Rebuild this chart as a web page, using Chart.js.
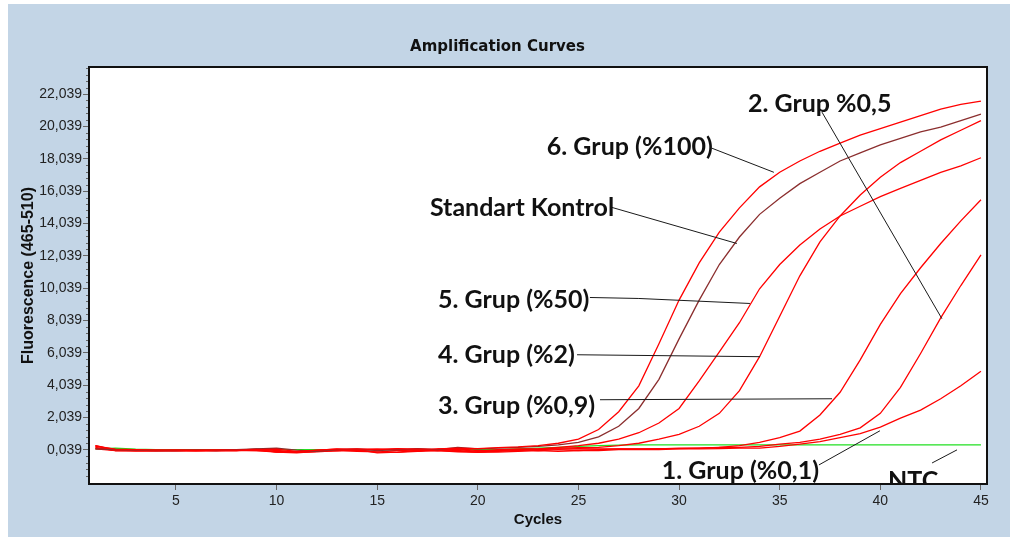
<!DOCTYPE html>
<html lang="tr">
<head>
<meta charset="UTF-8">
<title>Amplification Curves</title>
<script src="https://cdn.jsdelivr.net/npm/chart.js"></script>
<style>
  body { margin: 0; background: #fff; width: 1010px; height: 537px; overflow: hidden; position: relative; }
  #grafico { position: absolute; left: 8px; top: 4px; }
</style>
</head>
<body>
<canvas id="grafico" width="1002" height="533"></canvas>
<script>
  // cycles on the x axis
  var ciclos = [1, 2, 3, 4, 5, 6, 7, 8, 9, 10, 11, 12, 13, 14, 15, 16, 17, 18, 19, 20,
    21, 22, 23, 24, 25, 26, 27, 28, 29, 30, 31, 32, 33, 34, 35, 36, 37, 38, 39, 40, 41, 42, 43, 44, 45];

  // fluorescence per cycle
  var grup6 = [0.25, 0.08, 0.05, 0.03, 0.02, 0.0, 0.02, 0.03, 0.05, 0.08,
    -0.05, 0.02, 0.08, 0.1, 0.05, 0.12, 0.08, 0.1, 0.15, 0.12,
    0.18, 0.22, 0.3, 0.45, 0.7, 1.3, 2.4, 4.0, 6.6, 9.3,
    11.6, 13.5, 15.0, 16.3, 17.2, 17.9, 18.5, 19.0, 19.5, 19.9,
    20.3, 20.7, 21.1, 21.4, 21.6];
  var standart = [0.1, 0.05, 0.02, 0.0, 0.0, 0.02, 0.0, 0.05, 0.1, 0.15,
    0.02, -0.05, 0.05, 0.1, 0.0, 0.05, 0.12, 0.05, 0.2, 0.1,
    0.15, 0.2, 0.25, 0.35, 0.5, 0.85, 1.5, 2.6, 4.4, 6.9,
    9.3, 11.5, 13.2, 14.6, 15.6, 16.5, 17.2, 17.9, 18.4, 18.9,
    19.3, 19.7, 20.0, 20.4, 20.8];
  var grup5 = [0.3, 0.0, -0.02, 0.0, 0.02, 0.0, 0.0, 0.02, 0.0, -0.1,
    -0.1, 0.0, 0.05, 0.02, -0.1, 0.0, 0.1, 0.0, -0.05, -0.1,
    0.0, 0.05, 0.1, 0.2, 0.3, 0.45, 0.7, 1.1, 1.7, 2.6,
    4.3, 6.1, 7.9, 10.0, 11.5, 12.7, 13.7, 14.5, 15.1, 15.7,
    16.2, 16.7, 17.2, 17.6, 18.1];
  var grup4 = [0.15, 0.02, 0.0, -0.02, 0.0, 0.0, 0.02, 0.05, 0.05, -0.08,
    -0.1, -0.05, 0.0, 0.05, 0.1, 0.02, -0.05, 0.1, 0.05, -0.05,
    0.05, 0.1, 0.1, 0.15, 0.18, 0.2, 0.3, 0.45, 0.7, 1.0,
    1.5, 2.3, 3.7, 5.8, 8.3, 10.8, 12.9, 14.5, 15.8, 16.9,
    17.8, 18.5, 19.2, 19.8, 20.4];
  var grup3 = [0.2, 0.0, 0.0, 0.0, 0.0, 0.0, 0.0, 0.0, 0.05, -0.1,
    -0.15, -0.05, 0.0, 0.05, -0.15, -0.1, 0.0, 0.05, 0.0, -0.12,
    -0.05, 0.0, 0.05, 0.1, 0.12, 0.1, 0.1, 0.1, 0.12, 0.12,
    0.15, 0.2, 0.3, 0.5, 0.8, 1.2, 2.2, 3.6, 5.6, 7.8,
    9.7, 11.3, 12.8, 14.2, 15.5];
  var grup2 = [0.3, 0.05, 0.0, 0.0, 0.0, 0.0, 0.0, 0.0, 0.1, 0.0,
    -0.08, 0.0, 0.1, 0.0, 0.05, 0.1, 0.0, 0.0, 0.1, 0.0,
    0.0, 0.05, 0.0, 0.05, 0.0, 0.05, 0.1, 0.1, 0.1, 0.15,
    0.15, 0.2, 0.2, 0.25, 0.4, 0.5, 0.7, 1.0, 1.4, 2.3,
    3.9, 6.0, 8.2, 10.2, 12.1];
  var grup1 = [0.1, 0.0, 0.0, 0.0, -0.02, 0.0, 0.0, 0.0, 0.0, -0.05,
    -0.12, -0.08, 0.0, -0.05, -0.08, -0.12, -0.05, 0.0, -0.08, -0.1,
    -0.1, -0.05, 0.0, -0.05, 0.0, 0.0, 0.05, 0.05, 0.05, 0.1,
    0.1, 0.12, 0.15, 0.15, 0.25, 0.4, 0.55, 0.8, 1.05, 1.45,
    2.0, 2.5, 3.2, 4.0, 4.9];
  var ntc = [0.1, 0.15, 0.08, 0.05, 0.05, 0.05, 0.05, 0.05, 0.05, 0.05,
    0.05, 0.05, 0.05, 0.05, 0.05, 0.05, 0.05, 0.05, 0.05, 0.05,
    0.05, 0.1, 0.15, 0.2, 0.25, 0.3, 0.33, 0.35, 0.35, 0.35,
    0.35, 0.35, 0.35, 0.35, 0.35, 0.35, 0.35, 0.35, 0.35, 0.35,
    0.35, 0.35, 0.35, 0.35, 0.35];

  // tick labels
  var ticksY = [0.039, 2.039, 4.039, 6.039, 8.039, 10.039, 12.039, 14.039, 16.039, 18.039, 20.039, 22.039];
  var ticksX = [5, 10, 15, 20, 25, 30, 35, 40, 45];

  // callouts: text anchored at (cycle, value), leader line in data units
  var rotulos = [
    { texto: '2. Grup %0,5', x: 33.42, y: 21.41, linha: [[37.1, 20.92], [43.06, 8.15]] },
    { texto: '6. Grup (%100)', x: 23.43, y: 18.75, linha: [[31.63, 18.69], [34.71, 17.2]] },
    { texto: 'Standart Kontrol', x: 17.62, y: 14.97, linha: [[26.66, 15.03], [32.87, 12.8]] },
    { texto: '5. Grup (%50)', x: 18.02, y: 9.33, linha: [[25.57, 9.46], [28.0, 9.4], [33.52, 9.09]] },
    { texto: '4. Grup (%2)', x: 18.02, y: 5.92, linha: [[24.93, 5.92], [34.02, 5.8]] },
    { texto: '3. Grup (%0,9)', x: 18.02, y: 2.76, linha: [[26.07, 3.14], [37.6, 3.2]] },
    { texto: '1. Grup (%0,1)', x: 29.14, y: -1.26, linha: [[36.95, -0.89], [39.98, 1.22]] },
    { texto: 'NTC', x: 40.38, y: -1.85, linha: [[42.57, -0.77], [43.81, 0.04]] }
  ];

  function serie(nome, valores, cor) {
    return {
      label: nome,
      data: valores,
      borderColor: cor,
      borderWidth: 1.3,
      pointRadius: 0,
      tension: 0,
      fill: false
    };
  }

  var fundo = {
    id: 'fundo',
    beforeDraw: function (chart) {
      var c = chart.ctx, a = chart.chartArea;
      c.save();
      c.fillStyle = '#c3d5e6';
      c.fillRect(0, 0, chart.width, chart.height);
      c.fillStyle = '#ffffff';
      c.fillRect(a.left, a.top, a.right - a.left, a.bottom - a.top);
      c.restore();
    }
  };

  var chamadas = {
    id: 'chamadas',
    afterDatasetsDraw: function (chart) {
      var c = chart.ctx, a = chart.chartArea;
      var sx = chart.scales.x, sy = chart.scales.y;
      c.save();
      c.beginPath();
      c.rect(a.left, a.top, a.right - a.left, a.bottom - a.top);
      c.clip();
      c.strokeStyle = '#1a1a1a';
      c.lineWidth = 1;
      rotulos.forEach(function (r) {
        c.beginPath();
        r.linha.forEach(function (p, i) {
          var px = sx.getPixelForValue(p[0]), py = sy.getPixelForValue(p[1]);
          if (i == 0) c.moveTo(px, py); else c.lineTo(px, py);
        });
        c.stroke();
      });
      c.fillStyle = '#111';
      c.font = 'bold 25px Lato, "Open Sans", sans-serif';
      c.textAlign = 'left';
      c.textBaseline = 'middle';
      rotulos.forEach(function (r) {
        c.fillText(r.texto, sx.getPixelForValue(r.x), sy.getPixelForValue(r.y));
      });
      c.restore();
    }
  };

  var moldura = {
    id: 'moldura',
    afterDraw: function (chart) {
      var c = chart.ctx, a = chart.chartArea, sy = chart.scales.y;
      c.save();
      // minor ticks every 0.4 on the y axis
      c.strokeStyle = '#666';
      c.lineWidth = 1;
      for (var k = -5; k <= 59; k++) {
        if (k % 5 == 0) continue;
        var py = Math.round(sy.getPixelForValue(0.039 + k * 0.4)) + 0.5;
        if (py < a.top || py > a.bottom) continue;
        c.beginPath();
        c.moveTo(a.left - 3, py);
        c.lineTo(a.left, py);
        c.stroke();
      }
      c.strokeStyle = '#111';
      c.lineWidth = 2;
      c.strokeRect(a.left, a.top, a.right - a.left, a.bottom - a.top);
      c.restore();
    }
  };

  const tx = document.getElementById('grafico');

  new Chart(tx, {
    type: 'line',
    data: {
      labels: ciclos,
      datasets: [
        serie('6. Grup (%100)', grup6, '#ff0000'),
        serie('Standart Kontrol', standart, '#8b2e2e'),
        serie('5. Grup (%50)', grup5, '#ff0000'),
        serie('4. Grup (%2)', grup4, '#ff0000'),
        serie('3. Grup (%0,9)', grup3, '#ff0000'),
        serie('2. Grup %0,5', grup2, '#ff0000'),
        serie('1. Grup (%0,1)', grup1, '#ff0000'),
        serie('NTC', ntc, '#22e022')
      ]
    },
    options: {
      responsive: false,
      animation: false,
      devicePixelRatio: 1,
      layout: { padding: { left: 0, right: 23, top: 0, bottom: 0 } },
      plugins: {
        legend: { display: false },
        tooltip: { enabled: false },
        title: {
          display: true,
          text: 'Amplification Curves',
          color: '#111',
          font: { family: '"DejaVu Sans", sans-serif', size: 15, weight: 'bold', lineHeight: 1.2 },
          padding: { top: 34, bottom: 11 }
        }
      },
      scales: {
        x: {
          type: 'linear',
          min: 0.68,
          max: 45.3,
          afterBuildTicks: function (s) { s.ticks = ticksX.map(function (v) { return { value: v }; }); },
          afterFit: function (s) { s.height = 53; },
          ticks: { color: '#222', padding: 3, maxRotation: 0, font: { family: '"Liberation Sans", Arial, sans-serif', size: 14 } },
          grid: { drawOnChartArea: false, drawTicks: true, tickLength: 6, color: '#666' },
          border: { display: false },
          title: {
            display: true,
            text: 'Cycles',
            color: '#111',
            font: { family: '"Liberation Sans", Arial, sans-serif', size: 15, weight: 'bold', lineHeight: 1.2 },
            padding: { top: 0, bottom: 8 }
          }
        },
        y: {
          min: -2.07,
          max: 23.71,
          afterBuildTicks: function (s) { s.ticks = ticksY.map(function (v) { return { value: v }; }); },
          afterFit: function (s) { s.width = 81; },
          ticks: {
            color: '#222',
            padding: 1,
            font: { family: '"Liberation Sans", Arial, sans-serif', size: 14 },
            callback: function (v) { return v.toFixed(3).replace('.', ','); }
          },
          grid: { drawOnChartArea: false, drawTicks: true, tickLength: 6, color: '#666' },
          border: { display: false },
          title: {
            display: true,
            text: 'Fluorescence (465-510)',
            color: '#111',
            font: { family: '"Liberation Sans", Arial, sans-serif', size: 16, weight: 'bold', lineHeight: 1.2 },
            padding: { top: 11, bottom: 0 }
          }
        }
      }
    },
    plugins: [fundo, chamadas, moldura]
  });
</script>
</body>
</html>
